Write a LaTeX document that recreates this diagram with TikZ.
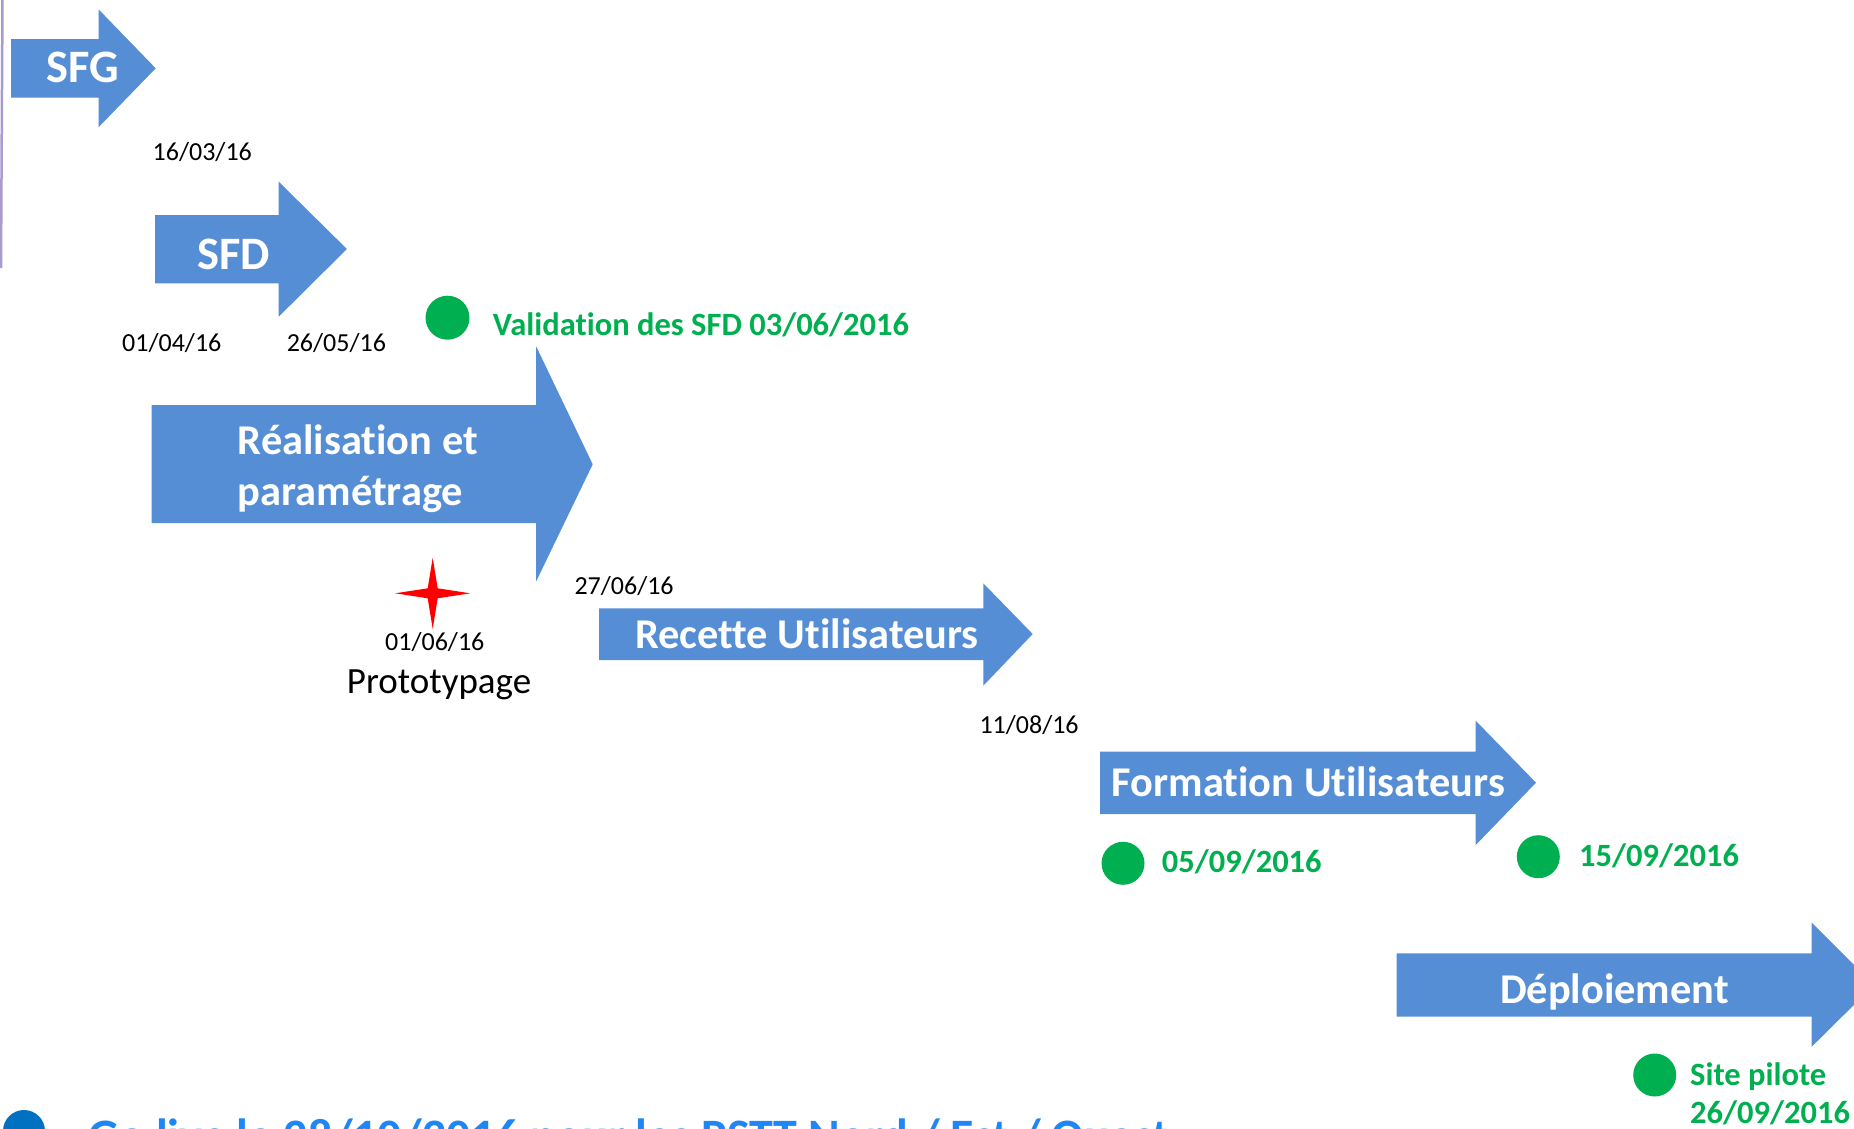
\documentclass[tikz,border=0pt]{standalone}
\usepackage{fontspec}
\setmainfont{Carlito}[RawFeature=-liga]
\definecolor{arrowblue}{HTML}{558ED5}
\definecolor{msgreen}{HTML}{00B050}
\definecolor{starred}{HTML}{FF0000}
\definecolor{linepurple}{HTML}{A99BCE}
\definecolor{dotblue}{HTML}{0070C0}
\definecolor{golive}{HTML}{1F86F5}
\tikzset{
  arrowshape/.style={fill=arrowblue},
  arrowtxt/.style={text=white, inner sep=0pt, font=\fontsize{42.4}{51}\selectfont\bfseries},
  bigtxt/.style={text=white, inner sep=0pt, font=\fontsize{46.5}{55}\selectfont\bfseries},
  datelbl/.style={anchor=base west, inner sep=0pt, text=black, font=\fontsize{26}{31}\selectfont},
  greenlbl/.style={anchor=base west, inner sep=0pt, text=msgreen, font=\fontsize{32.5}{39}\selectfont\bfseries},
  greendot/.style={circle, fill=msgreen, inner sep=0pt, minimum size=43pt},
}
\begin{document}
\begin{tikzpicture}[x=1pt,y=-1pt]
\useasboundingbox (0,0) rectangle (1854,1128);
\clip (0,0) rectangle (1854,1128);

% left purple line
\coordinate (pl1) at (2.5,0);
\coordinate (pl2) at (1,268);
\draw[linepurple, line width=2.5pt] (pl1) -- (pl2);

% SFG arrow
\fill[arrowshape] (11,39) -- (98.5,39) -- (98.5,9.3) -- (155.7,68.3) -- (98.5,127.3) -- (98.5,97.7) -- (11,97.7) -- cycle;
\node[bigtxt, anchor=base] (sfg) at (82.8,82) {SFG};
\node[datelbl] (d1) at (152.5,160) {16/03/16};

% SFD arrow
\fill[arrowshape] (155,215) -- (278.7,215) -- (278.7,181.7) -- (346.9,249) -- (278.7,316.7) -- (278.7,283.3) -- (155,283.3) -- cycle;
\node[bigtxt, anchor=base] (sfd) at (233.6,269) {SFD};
\node[datelbl] (d2) at (122,351.7) {01/04/16};
\node[datelbl] (d3) at (286.6,351.7) {26/05/16};

% Validation milestone
\node[greendot, minimum size=44pt] (gd1) at (447.5,317.7) {};
\node[greenlbl] (val) at (492.7,335) {Validation des SFD 03/06/2016};

% Realisation arrow
\fill[arrowshape] (151.7,405) -- (536,405) -- (536,346) -- (592.7,464.3) -- (536,581.7) -- (536,523) -- (151.7,523) -- cycle;
\node[arrowtxt, anchor=base west] (real1) at (237.7,454.3) {Réalisation et};
\node[arrowtxt, anchor=base west] (real2) at (237.7,505) {paramétrage};

% Prototypage star
\fill[starred] (432.7,557.8) -- (437.7,588.3) -- (470.2,593.3) -- (437.7,598.3) -- (432.7,628.8) -- (427.7,598.3) -- (395.2,593.3) -- (427.7,588.3) -- cycle;
\node[datelbl] (d4) at (385,650) {01/06/16};
\node[anchor=base west, inner sep=0pt, font=\fontsize{37}{44}\selectfont] (proto) at (346.7,693.3) {Prototypage};

% Recette arrow
\node[datelbl] (d5) at (574.3,594.3) {27/06/16};
\fill[arrowshape] (599,608.3) -- (983.3,608.3) -- (983.3,583.3) -- (1032.7,634) -- (983.3,685.7) -- (983.3,660) -- (599,660) -- cycle;
\node[arrowtxt, anchor=base west] (rec) at (635,648.3) {Recette Utilisateurs};
\node[datelbl] (d6) at (979.3,733.3) {11/08/16};

% Formation arrow
\fill[arrowshape] (1100,751.7) -- (1475.7,751.7) -- (1475.7,720.7) -- (1536,782.7) -- (1475.7,845) -- (1475.7,814) -- (1100,814) -- cycle;
\node[arrowtxt, anchor=base west] (form) at (1111.7,796) {Formation Utilisateurs};
\node[greendot] (gd2) at (1123,863.3) {};
\node[greenlbl] (f1) at (1161.7,872.7) {05/09/2016};
\node[greendot] (gd3) at (1538.3,856.7) {};
\node[greenlbl] (f2) at (1579,866) {15/09/2016};

% Deploiement arrow
\fill[arrowshape] (1396.7,953.3) -- (1811.7,953.3) -- (1811.7,922.7) -- (1874,985) -- (1811.7,1046.7) -- (1811.7,1016.7) -- (1396.7,1016.7) -- cycle;
\node[arrowtxt, anchor=base] (dep) at (1614.5,1003.3) {Déploiement};
\node[greendot] (gd4) at (1654.7,1075) {};
\node[greenlbl] (sp1) at (1690,1085) {Site pilote};
\node[greenlbl] (sp2) at (1690,1123.3) {26/09/2016};

% Go live (cut at bottom edge)
\node[circle, fill=dotblue, inner sep=0pt, minimum size=42pt] (gd5) at (24,1131) {};
\node[anchor=base west, inner sep=0pt, text=golive, font=\fontsize{48}{58}\selectfont\bfseries] (gl) at (88.7,1152) {Go live le 28/10/2016 pour les PSTT Nord / Est / Ouest};
\end{tikzpicture}
\end{document}
